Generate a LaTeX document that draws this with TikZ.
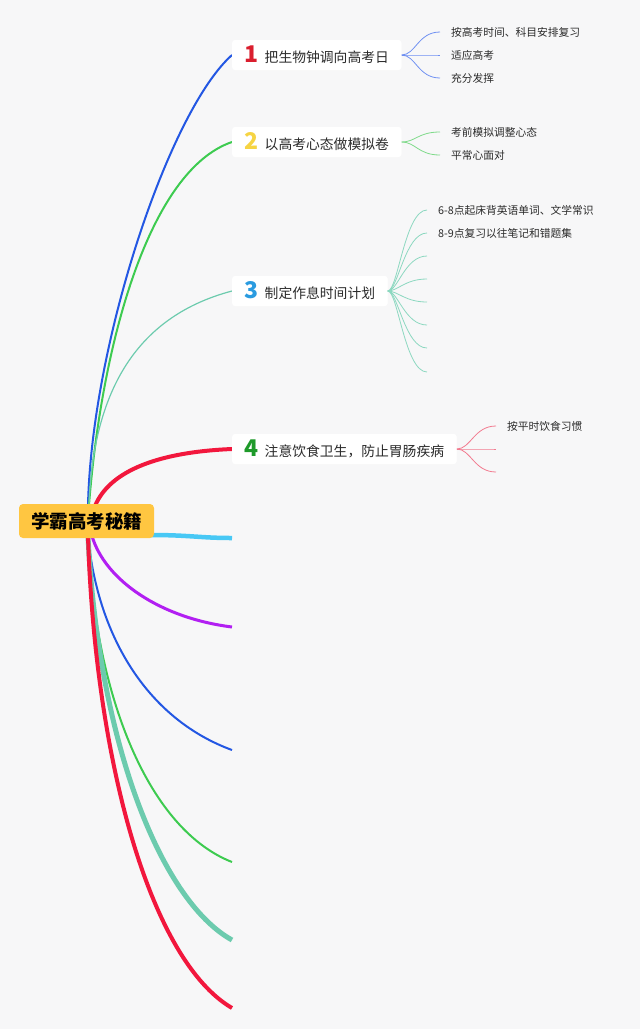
\documentclass[tikz,border=0pt]{standalone}
\usepackage{fontspec}
\newfontfamily\cjk{Noto Sans CJK SC}
\definecolor{bg}{HTML}{F7F7F8}
\definecolor{rootc}{HTML}{FFC641}
\definecolor{cblue}{HTML}{2357E3}
\definecolor{cgreen}{HTML}{3DCB50}
\definecolor{cteal}{HTML}{6CCBAE}
\definecolor{cred}{HTML}{F2173D}
\definecolor{ccyan}{HTML}{48C8F5}
\definecolor{cpurple}{HTML}{B21FF2}
\definecolor{sblue}{HTML}{6F90F2}
\definecolor{sgreen}{HTML}{7FDA8A}
\definecolor{steal}{HTML}{8CD8C0}
\definecolor{sred}{HTML}{F27A8F}
\definecolor{n1}{HTML}{DA1E2E}
\definecolor{n2}{HTML}{F6D443}
\definecolor{n3}{HTML}{2A9BE0}
\definecolor{n4}{HTML}{1E9A2A}
\definecolor{txt}{HTML}{2B2B2B}
\tikzset{
  rootbox/.style={fill=rootc, rounded corners=4pt, minimum width=135pt, minimum height=34pt, inner sep=0pt, font=\cjk\bfseries\fontsize{18.5}{20}\selectfont, text=black},
  topic/.style={fill=white, rounded corners=3pt, minimum height=30pt, inner xsep=12.5pt, inner ysep=0pt, anchor=west, font=\cjk\fontsize{13.8}{15}\selectfont, text=txt},
  subt/.style={inner xsep=11pt, inner ysep=0pt, anchor=west, font=\cjk\fontsize{10.75}{12}\selectfont, text=txt},
  sub/.style={line width=0.8pt},
}
\newcommand{\numb}[2]{{\color{#1}\bfseries\fontsize{23}{23}\selectfont #2}\hspace{6pt}}
\begin{document}
\begin{tikzpicture}[x=1pt,y=-1pt]
\fill[bg] (0,0) rectangle (640,1029);
\useasboundingbox (0,0) rectangle (640,1029);

% topic nodes
\node[topic] (t1) at (232,55) {\numb{n1}{1}把生物钟调向高考日};
\node[topic] (t2) at (232,142) {\numb{n2}{2}以高考心态做模拟卷};
\node[topic] (t3) at (232,291) {\numb{n3}{3}制定作息时间计划};
\node[topic] (t4) at (232,449) {\numb{n4}{4}注意饮食卫生，防止胃肠疾病};

% empty branch ends
\coordinate (e5) at (232,538);
\coordinate (e6) at (232,627);
\coordinate (e7) at (232,750);
\coordinate (e8) at (232,862);
\coordinate (e9) at (232,940);
\coordinate (e10) at (232,1008);

% main branches (drawn before root so root covers their ends)
\draw[cblue, line width=2pt] (88,505) .. controls (92,340) and (170,110) .. (t1.west);
\draw[cgreen, line width=2pt] (89,505) .. controls (102,340) and (150,170) .. (t2.west);
\draw[cteal, line width=1.2pt] (89,505) .. controls (93,400) and (130,318) .. (t3.west);
\draw[cred, line width=4pt] (95,506) .. controls (110,470) and (160,452) .. (t4.west);
\draw[ccyan, line width=4.5pt] (150,535) .. controls (190,535) and (200,538) .. (e5);
\draw[cpurple, line width=3pt] (92,536) .. controls (105,580) and (160,618) .. (e6);
\draw[cblue, line width=2pt] (88,536) .. controls (98,640) and (150,720) .. (e7);
\draw[cgreen, line width=2pt] (88,536) .. controls (95,700) and (150,830) .. (e8);
\draw[cteal, line width=5pt] (88,536) .. controls (98,740) and (160,900) .. (e9);
\draw[cred, line width=4pt] (88,536) .. controls (95,760) and (150,960) .. (e10);

\node[rootbox] (root) at (86.5,521) {学霸高考秘籍};

% redraw topic nodes on top
\node[topic] at (232,55) {\numb{n1}{1}把生物钟调向高考日};
\node[topic] at (232,142) {\numb{n2}{2}以高考心态做模拟卷};
\node[topic] at (232,291) {\numb{n3}{3}制定作息时间计划};
\node[topic] at (232,449) {\numb{n4}{4}注意饮食卫生，防止胃肠疾病};

% sub-topics of 1
\node[subt] (s11) at (440,32) {按高考时间、科目安排复习};
\node[subt] (s12) at (440,55) {适应高考};
\node[subt] (s13) at (440,78) {充分发挥};
\foreach \s in {s11,s12,s13}
  \draw[sblue, sub] (t1.east) .. controls ([xshift=14pt]t1.east) and ([xshift=-22pt]\s.west) .. (\s.west);

% sub-topics of 2
\node[subt] (s21) at (440,132) {考前模拟调整心态};
\node[subt] (s22) at (440,155) {平常心面对};
\foreach \s in {s21,s22}
  \draw[sgreen, sub] (t2.east) .. controls ([xshift=14pt]t2.east) and ([xshift=-22pt]\s.west) .. (\s.west);

% sub-topics of 3
\node[subt] (s31) at (427,210) {6-8点起床背英语单词、文学常识};
\node[subt] (s32) at (427,233) {8-9点复习以往笔记和错题集};
\coordinate (s33) at (427,256);
\coordinate (s34) at (427,279);
\coordinate (s35) at (427,302);
\coordinate (s36) at (427,325);
\coordinate (s37) at (427,348);
\coordinate (s38) at (427,372);
\foreach \s in {s31,s32}
  \draw[steal, sub] (t3.east) .. controls ([xshift=10pt]t3.east) and ([xshift=-22pt]\s.west) .. (\s.west);
\foreach \s in {s33,s34,s35,s36,s37,s38}
  \draw[steal, sub] (t3.east) .. controls ([xshift=10pt]t3.east) and ([xshift=-22pt]\s) .. (\s);

% sub-topics of 4
\node[subt] (s41) at (496,426) {按平时饮食习惯};
\coordinate (s42) at (496,449);
\coordinate (s43) at (496,472);
\draw[sred, sub] (t4.east) .. controls ([xshift=14pt]t4.east) and ([xshift=-22pt]s41.west) .. (s41.west);
\foreach \s in {s42,s43}
  \draw[sred, sub] (t4.east) .. controls ([xshift=14pt]t4.east) and ([xshift=-22pt]\s) .. (\s);
\end{tikzpicture}
\end{document}
